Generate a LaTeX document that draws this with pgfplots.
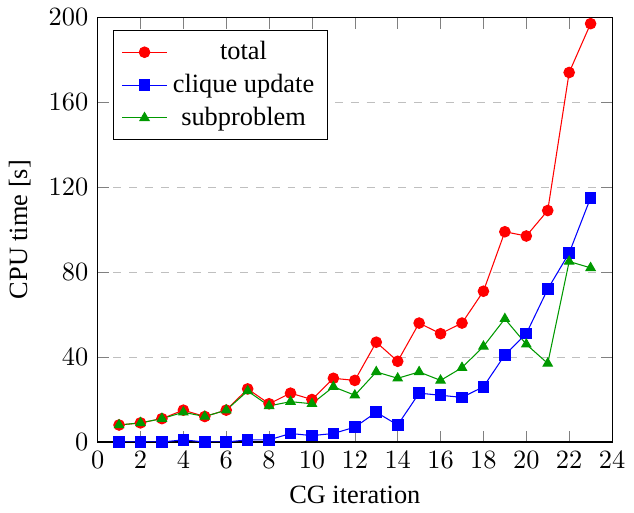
\documentclass[border=0pt]{standalone}
\usepackage{fontspec}
\setmainfont{Liberation Serif}
\usepackage{pgfplots}
\pgfplotsset{compat=1.18}
\begin{document}
\begin{tikzpicture}
    \begin{axis}[
        scale only axis,
        width=195pt,
        height=161pt,
        xmin=0, xmax=24,
        ymin=0, ymax=200,
        xtick={0,2,...,24},
        ytick={0,40,...,200},
        xlabel={CG iteration},
        ylabel={CPU time [s]},
        ymajorgrids,
        grid style={dashed, gray!50},
        legend style={at={(0.03,0.97)},anchor=north west},
        legend cell align=center,
    ]
\addplot[mark=*, red] coordinates {
        (1,8) (2,9) (3,11) (4,15) (5,12) (6,15) (7,25) (8,18)
        (9,23) (10,20) (11,30) (12,29) (13,47) (14,38) (15,56)
        (16,51) (17,56) (18,71) (19,99) (20,97) (21,109) (22,174) (23,197)
};
\addlegendentry{total}

\addplot[mark=square*, blue] coordinates {
        (1,0) (2,0) (3,0) (4,1) (5,0) (6,0) (7,1) (8,1)
        (9,4) (10,3) (11,4) (12,7) (13,14) (14,8) (15,23)
        (16,22) (17,21) (18,26) (19,41) (20,51) (21,72) (22,89) (23,115)
};
\addlegendentry{clique update}

\addplot[mark=triangle*, green!60!black] coordinates {
        (1,8) (2,9) (3,11) (4,14) (5,12) (6,15) (7,24) (8,17)
        (9,19) (10,18) (11,26) (12,22) (13,33) (14,30) (15,33)
        (16,29) (17,35) (18,45) (19,58) (20,46) (21,37) (22,85) (23,82)
};
\addlegendentry{subproblem}
    \end{axis}
\end{tikzpicture}
\end{document}
